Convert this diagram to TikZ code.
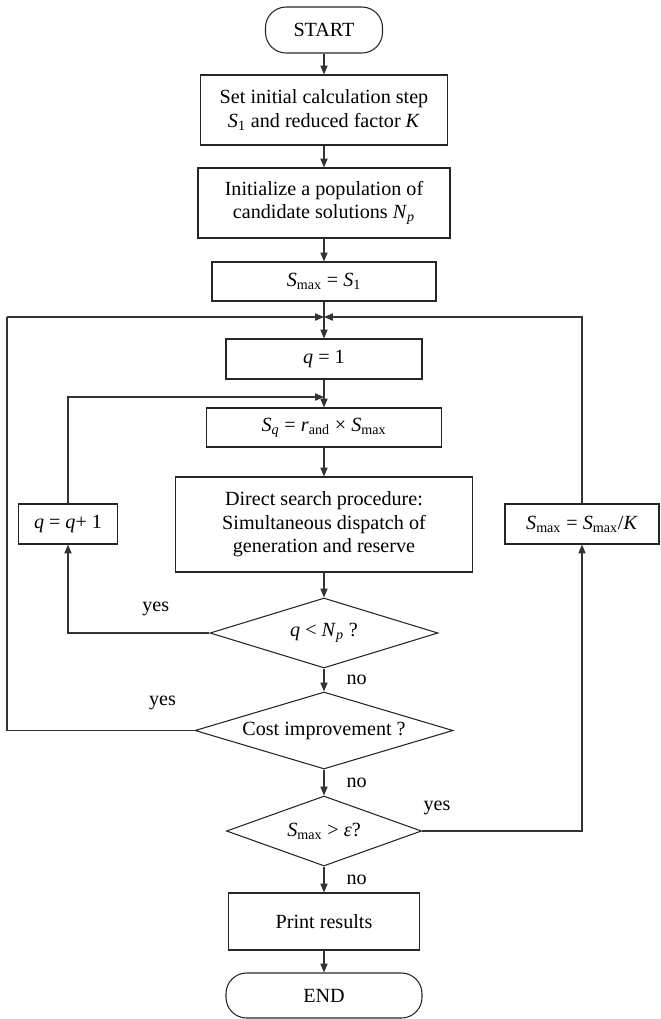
\documentclass[tikz,border=0pt]{standalone}
\usepackage{fontspec}
\setmainfont{Liberation Serif}
\usetikzlibrary{arrows.meta,shapes.geometric,positioning}
\newcommand{\pxu}{0.0213cm}
\newcommand{\Smx}{\textit{S}\textsubscript{max}}
\newcommand{\Np}{\textit{N}\textsubscript{\textit{p}}}

\begin{document}
\begin{tikzpicture}[x=0.0213cm, y=-0.0213cm, >={Triangle[length=5.4pt,width=4.4pt]},
    every node/.style={font=\fontsize{12.2}{14.3}\selectfont},
    sz/.style 2 args={minimum width={#1*\pxu}, minimum height={#2*\pxu}},
    box/.style={draw=black!85, line width=0.65pt, align=center, inner sep=0pt},
    term/.style={box, rounded corners=12.5pt},
    dec/.style={diamond, aspect=3, draw=black!85, line width=0.65pt, inner sep=0pt},
    line/.style={draw=black!80, line width=0.65pt},
    lbl/.style={inner sep=0pt}]
    \useasboundingbox (0,0) rectangle (660,1019);
    % 主流程
    \node[term, sz={117}{46}] (start) at (324,30) {START};
    \node[box, sz={247}{70}] (init) at (324,110)
      {Set initial calculation step\\ \textit{S}\textsubscript{1} and reduced factor \textit{K}};
    \node[box, sz={252}{70}] (pop) at (324,203)
      {Initialize a population of\\ candidate solutions \Np};
    \node[box, sz={224}{39}] (smax) at (324,281.5) {\Smx{} = \textit{S}\textsubscript{1}};
    \node[box, sz={196}{40}] (q1) at (324,359) {\textit{q} = 1};
    \node[box, sz={235}{39}] (sq) at (324,427.5)
      {\textit{S}\textsubscript{\textit{q}} = \textit{r}\textsubscript{and} × \Smx};
    \node[box, sz={297}{95}] (search) at (324,524.5)
      {Direct search procedure:\\ Simultaneous dispatch of\\ generation and reserve};
    \node[dec, sz={228}{70}] (dec1) at (324,633) {\textit{q} < \Np{} ?};
    \node[dec, sz={258}{77}] (dec2) at (324,730.5) {Cost improvement ?};
    \node[dec, sz={195}{70}] (dec3) at (324,831) {\Smx{} > \textit{ε}?};
    \node[box, sz={191}{57}] (print) at (324,921.5) {Print results};
    \node[term, sz={196}{45}] (stop) at (324,995.5) {END};
    % 两侧的更新框
    \node[box, sz={99}{40}] (qinc) at (68,524) {\textit{q} = \textit{q}+ 1};
    \node[box, sz={154}{40}] (smaxk) at (582,524) {\Smx{} = \Smx/\textit{K}};
    % 汇合点
    \coordinate (j1) at (324,317);
    \coordinate (j2) at (324,397);
    \coordinate (outl) at (7,317);
    % 主干箭头
    \draw[line,->] (start) -- (init);
    \draw[line,->] (init) -- (pop);
    \draw[line,->] (pop) -- (smax);
    \draw[line,->] (smax) -- (q1);
    \draw[line,->] (q1) -- (sq);
    \draw[line,->] (sq) -- (search);
    \draw[line,->] (search) -- (dec1);
    \draw[line,->] (dec1) -- node[lbl,right=0.47cm] (no1) {no} (dec2);
    \draw[line,->] (dec2) -- node[lbl,right=0.47cm] (no2) {no} (dec3);
    \draw[line,->] (dec3) -- node[lbl,right=0.47cm] (no3) {no} (print);
    \draw[line,->] (print) -- (stop);
    % 内循环：q = q+1
    \draw[line,->] (dec1.west) -| node[lbl,pos=0.19,above=0.36cm] (yes1) {yes} (qinc.south);
    \draw[line,->] (qinc.north) |- (j2);
    % 外循环：代价改善
    \draw[line] (dec2.west) -| node[lbl,pos=0.085,above=0.42cm] (yes2) {yes} (outl);
    \draw[line,->] (outl) -- (j1);
    % 缩小步长
    \draw[line,->] (dec3.east) -| node[lbl,pos=0.047,above=0.34cm] (yes3) {yes} (smaxk.south);
    \draw[line,->] (smaxk.north) |- (j1);
  \end{tikzpicture}
\end{document}
